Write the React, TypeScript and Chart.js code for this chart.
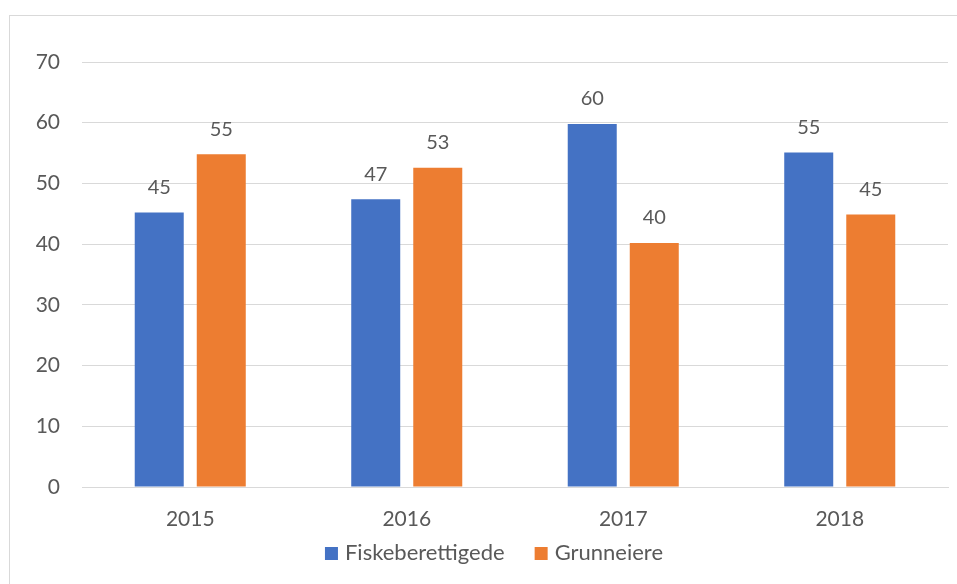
import React, { useEffect, useRef } from "react";
import { Chart, registerables } from "chart.js";

Chart.register(...registerables);

const categories = ["2015", "2016", "2017", "2018"];
const seriesNames = ["Fiskeberettigede", "Grunneiere"];
const fiske = [45.2, 47.4, 59.8, 55.1];
const grunn = [54.8, 52.6, 40.2, 44.9];
const seriesColors = ["#4472C4", "#ED7D31"];
const yTicksMax = 70;
const yStep = 10;

const FONT = "Lato, 'Open Sans', sans-serif";
const TEXT = "#595959";

const labelPlugin = {
  id: "barLabels",
  afterDatasetsDraw(chart: any) {
    const ctx = chart.ctx;
    ctx.save();
    ctx.font = `20px ${FONT}`;
    ctx.fillStyle = TEXT;
    ctx.textAlign = "center";
    ctx.textBaseline = "alphabetic";
    chart.data.datasets.forEach((ds: any, i: number) => {
      const meta = chart.getDatasetMeta(i);
      meta.data.forEach((bar: any, j: number) => {
        ctx.fillText(String(Math.round(ds.data[j])), bar.x, bar.y - 18.5);
      });
    });
    ctx.restore();
  },
};

const legendPlugin = {
  id: "customLegend",
  afterDraw(chart: any) {
    const ctx = chart.ctx;
    ctx.save();
    ctx.font = `22px ${FONT}`;
    ctx.textBaseline = "alphabetic";
    ctx.textAlign = "left";
    const box = 13;
    const gapText = 7;
    const gapItem = 30;
    const ds = chart.data.datasets;
    const widths = ds.map((d: any) => box + gapText + ctx.measureText(d.label).width);
    const total = widths.reduce((a: number, b: number) => a + b, 0) + gapItem * (ds.length - 1);
    const centerX = (chart.chartArea.left + chart.chartArea.right) / 2 - 21;
    let x = centerX - total / 2;
    const baseline = chart.chartArea.bottom + 73;
    ds.forEach((d: any, i: number) => {
      ctx.fillStyle = d.backgroundColor;
      ctx.fillRect(x, baseline - box, box, box);
      ctx.fillStyle = TEXT;
      ctx.fillText(d.label, x + box + gapText, baseline);
      x += widths[i] + gapItem;
    });
    ctx.restore();
  },
};

export default function App() {
  const ref = useRef<HTMLCanvasElement>(null);
  useEffect(() => {
    const chart = new Chart(ref.current!, {
      type: "bar",
      data: {
        labels: categories,
        datasets: [
          { label: seriesNames[0], data: fiske, backgroundColor: seriesColors[0] },
          { label: seriesNames[1], data: grunn, backgroundColor: seriesColors[1] },
        ],
      },
      options: {
        animation: false,
        responsive: false,
        layout: { padding: { top: 62, right: 9, bottom: 54, left: 0 } },
        datasets: { bar: { categoryPercentage: 0.573, barPercentage: 0.79 } },
        scales: {
          x: {
            grid: { display: false, drawTicks: false },
            border: { display: true, color: "#d9d9d9", width: 1 },
            ticks: { color: TEXT, font: { family: FONT, size: 21 }, padding: 20 },
            afterFit: (s: any) => { s.height = 43; },
          },
          y: {
            min: 0,
            max: yTicksMax,
            ticks: { stepSize: yStep, color: TEXT, font: { family: FONT, size: 21 }, padding: 22 },
            grid: { color: "#d9d9d9", drawTicks: false, lineWidth: 1 },
            border: { display: false },
            afterFit: (s: any) => { s.width = 82; },
          },
        },
        plugins: {
          legend: { display: false },
          tooltip: { enabled: false },
        },
      },
      plugins: [labelPlugin, legendPlugin],
    });
    return () => chart.destroy();
  }, []);
  return (
    <div style={{ position: "absolute", left: 0, top: 0, width: 957, height: 584, overflow: "hidden", background: "#fff" }}>
      <div style={{ position: "absolute", left: 9, top: 15, width: 980, height: 600, border: "1px solid #d9d9d9", boxSizing: "border-box" }} />
      <canvas ref={ref} width={957} height={584} style={{ position: "absolute", left: 0, top: 0 }} />
    </div>
  );
}
